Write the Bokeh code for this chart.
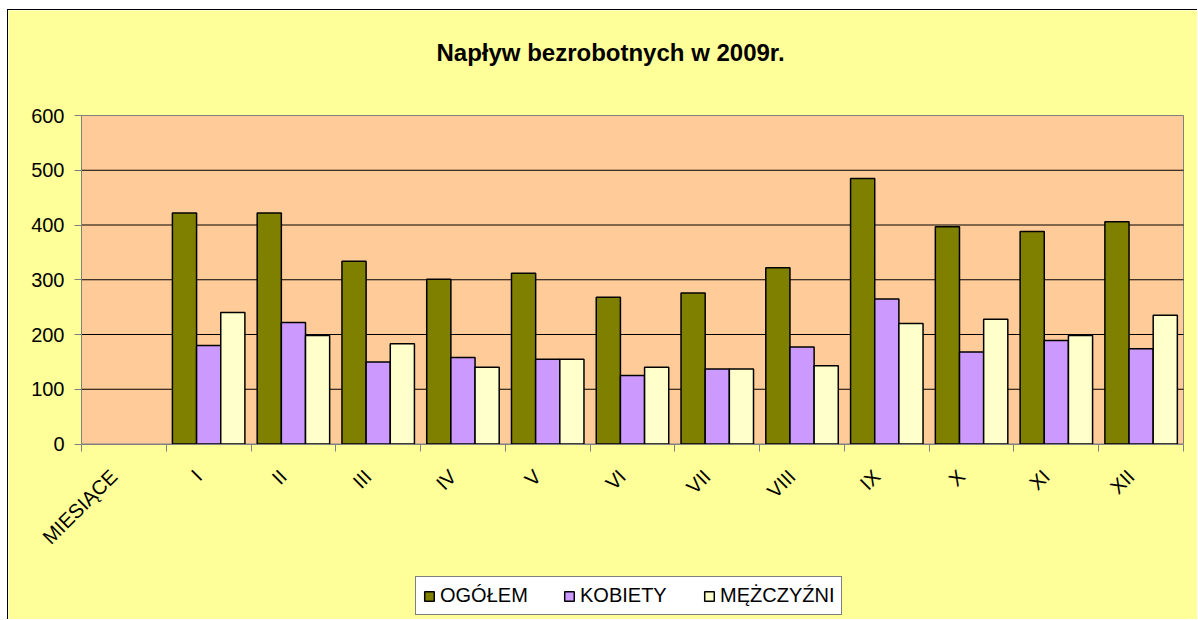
import numpy as np
from bokeh.plotting import figure
from bokeh.layouts import row, column
from bokeh.models import (ColumnDataSource, Range1d, FixedTicker, Legend, LegendItem,
                          Spacer, Label)
from bokeh.transform import dodge
from bokeh.embed import file_html
from bokeh.resources import INLINE

# ---- data ----
categories = ["MIESIĄCE", "I", "II", "III", "IV", "V", "VI", "VII", "VIII", "IX", "X", "XI", "XII"]
months = categories[1:]
ogolem = [422, 422, 334, 301, 312, 268, 276, 322, 485, 397, 388, 406]
kobiety = [180, 222, 150, 158, 155, 125, 137, 177, 265, 168, 189, 174]
mezczyzni = [240, 198, 183, 140, 155, 140, 137, 143, 220, 228, 198, 235]
series_names = ["OGÓŁEM", "KOBIETY", "MĘŻCZYŹNI"]
series_colors = ["#808000", "#CC99FF", "#FFFFCC"]
y_ticks = [0, 100, 200, 300, 400, 500, 600]
title_text = "Napływ bezrobotnych w 2009r."

FONT = "Liberation Sans"

# ---- layout constants (pixels) ----
W, H = 1190, 610            # canvas size
B_LEFT, B_RIGHT = 73, 15    # canvas left -> plot area, plot area -> canvas right
TOP_GAP = 105               # canvas top -> value 600
PLOT_H = 328.5              # pixel height of 0..600
Y_MAX_VAL = y_ticks[-1]
ppu = PLOT_H / Y_MAX_VAL
y_hi = Y_MAX_VAL + TOP_GAP / ppu
y_lo = -(H - TOP_GAP - PLOT_H) / ppu

n = len(categories)
px_per_cat = (W - B_LEFT - B_RIGHT) / n
x_lo = -B_LEFT / px_per_cat
x_hi = n + B_RIGHT / px_per_cat

centers = [i + 0.5 for i in range(n)]
label_pos = [c - 0.12 for c in centers]
bounds = list(range(n + 1))
src = ColumnDataSource(dict(x=centers[1:], og=ogolem, k=kobiety, m=mezczyzni, month=months))

p = figure(width=W, height=H, x_range=Range1d(x_lo, x_hi), y_range=Range1d(y_lo, y_hi),
           output_backend="svg", toolbar_location=None,
           min_border_left=0, min_border_right=0, min_border_top=0, min_border_bottom=0)
p.styles = {"border-left": "1px solid black", "border-top": "1px solid black"}
p.border_fill_color = "#FFFF99"
p.background_fill_color = "#FFFF99"
p.outline_line_color = None

# plot area background
p.quad(left=[0], right=[n], bottom=[0], top=[Y_MAX_VAL], fill_color="#FFCC99",
       line_color="#808080", line_width=1, level="image")

# horizontal grid lines limited to the plot area
grid_vals = y_ticks[1:-1]
p.segment(x0=[0] * len(grid_vals), x1=[n] * len(grid_vals), y0=grid_vals, y1=grid_vals,
          line_color="black", line_width=1, level="underlay")
p.xgrid.visible = False
p.ygrid.visible = False

bw = 0.285
offs = [-bw, 0.0, bw]
renderers = []
for field, off, col in zip(["og", "k", "m"], offs, series_colors):
    r = p.vbar(x=dodge("x", off), top=field, width=bw, bottom=0, source=src,
               fill_color=col, line_color="black", line_width=1.5)
    renderers.append(r)

# title
title_y = Y_MAX_VAL + (115 - 52) / ppu
title_x = (610 - 81) / px_per_cat
p.add_layout(Label(x=title_x, y=title_y, text=title_text, text_font=FONT,
                   text_font_size="24px", text_font_style="bold", text_color="black",
                   text_align="center", text_baseline="middle"))

# y axis at x = 0
p.yaxis.fixed_location = 0
p.yaxis.ticker = FixedTicker(ticks=y_ticks)
p.yaxis.bounds = (0, Y_MAX_VAL)
p.yaxis.major_tick_out = 7
p.yaxis.major_tick_in = 0
p.yaxis.minor_tick_line_color = None
p.yaxis.axis_line_color = "#808080"
p.yaxis.major_tick_line_color = "#808080"
p.yaxis.major_label_text_font = FONT
p.yaxis.major_label_text_font_size = "20px"
p.yaxis.major_label_text_color = "black"
p.yaxis.major_label_standoff = 10

# x axis at value 0
p.xaxis.fixed_location = 0
p.xaxis.bounds = (0, n)
p.xaxis.ticker = FixedTicker(ticks=label_pos, minor_ticks=bounds)
p.xaxis.major_label_overrides = {c: lab for c, lab in zip(label_pos, categories)}
p.xaxis.major_tick_out = 0
p.xaxis.major_tick_in = 0
p.xaxis.minor_tick_out = 7
p.xaxis.minor_tick_in = 0
p.xaxis.minor_tick_line_color = "#808080"
p.xaxis.axis_line_color = "#808080"
p.xaxis.major_label_orientation = np.pi / 4
p.xaxis.major_label_text_font = FONT
p.xaxis.major_label_text_font_size = "20px"
p.xaxis.major_label_text_color = "black"
p.xaxis.major_label_standoff = 22

# legend
items = [LegendItem(label=nm, renderers=[r]) for nm, r in zip(series_names, renderers)]
legend = Legend(items=items, location=(415 - 8, 5), orientation="horizontal",
                border_line_color="black", border_line_width=1,
                background_fill_color="white", background_fill_alpha=1.0,
                label_text_font=FONT, label_text_font_size="20px", label_text_color="black",
                glyph_width=12, glyph_height=12, label_standoff=5,
                label_width=105, spacing=18, padding=7, margin=0)
p.add_layout(legend)

layout = row(Spacer(width=7), column(Spacer(height=9), p, spacing=0), spacing=0)

open("out.html", "w").write(file_html(layout, INLINE))
